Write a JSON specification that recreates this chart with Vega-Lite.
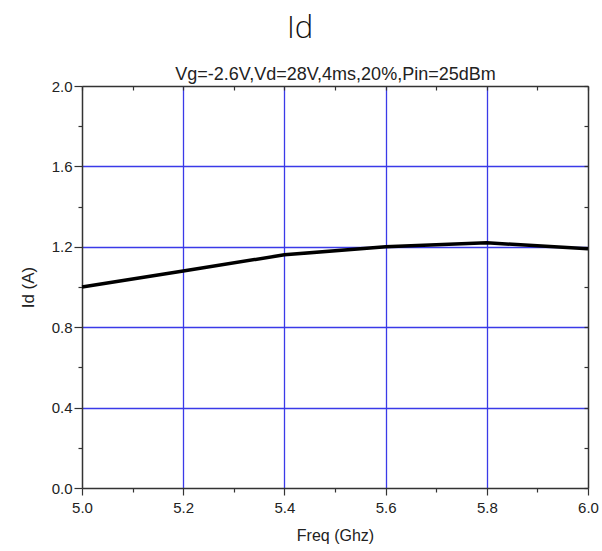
{
  "$schema": "https://vega.github.io/schema/vega-lite/v6.json",
  "width": 506,
  "height": 402,
  "autosize": {"type": "none"},
  "padding": {"left": 82, "top": 86, "right": 14, "bottom": 63},
  "background": "white",
  "config": {
    "view": {"stroke": null},
    "font": "Liberation Sans",
    "axis": {"domainColor": "#333333", "domainWidth": 1.5, "tickColor": "#333333", "tickWidth": 1.2, "labelColor": "#222222", "titleColor": "#222222", "labelFont": "Liberation Sans", "titleFont": "Liberation Sans", "labelFontSize": 15, "titleFontSize": 16, "titleFontWeight": "normal", "gridColor": "#3a3ae8", "gridWidth": 1.3}
  },
  "title": {"text": "Id", "fontSize": 31, "font": "Open Sans", "fontWeight": 300, "color": "#111111", "anchor": "middle", "dx": -35, "offset": 20},
  "data": {"values": [
    {"freq": 5.0, "id": 1.0},
    {"freq": 5.2, "id": 1.08},
    {"freq": 5.4, "id": 1.16},
    {"freq": 5.6, "id": 1.2},
    {"freq": 5.8, "id": 1.22},
    {"freq": 6.0, "id": 1.19}
  ]},
  "layer": [
    {
      "mark": {"type": "line", "color": "#000000", "strokeWidth": 3.5},
      "encoding": {
        "x": {"field": "freq", "type": "quantitative", "scale": {"domain": [5.0, 6.0], "nice": false, "zero": false},
          "axis": {"orient": "bottom", "title": "Freq (Ghz)", "values": [5.0, 5.1, 5.2, 5.3, 5.4, 5.5, 5.6, 5.7, 5.8, 5.9, 6.0],
            "labelExpr": "abs(datum.value*5 - round(datum.value*5)) < 0.01 ? format(datum.value, '.1f') : ''",
            "tickSize": {"condition": {"test": "abs(datum.value*5 - round(datum.value*5)) < 0.01", "value": 7}, "value": 4},
            "grid": true,
            "gridOpacity": {"condition": {"test": "abs(datum.value*5 - round(datum.value*5)) < 0.01 && datum.value > 5.05 && datum.value < 5.95", "value": 1}, "value": 0},
            "labelPadding": 5, "titlePadding": 12, "labelFlush": false}},
        "y": {"field": "id", "type": "quantitative", "scale": {"domain": [0, 2.0], "nice": false},
          "axis": {"orient": "left", "title": "Id (A)", "titleFontSize": 17, "values": [0, 0.2, 0.4, 0.6, 0.8, 1.0, 1.2, 1.4, 1.6, 1.8, 2.0],
            "labelExpr": "abs(datum.value*2.5 - round(datum.value*2.5)) < 0.01 ? format(datum.value, '.1f') : ''",
            "tickSize": {"condition": {"test": "abs(datum.value*2.5 - round(datum.value*2.5)) < 0.01", "value": 8}, "value": 4},
            "grid": true,
            "gridOpacity": {"condition": {"test": "abs(datum.value*2.5 - round(datum.value*2.5)) < 0.01 && datum.value > 0.05 && datum.value < 1.95", "value": 1}, "value": 0},
            "labelPadding": 2, "titlePadding": 14, "labelFlush": false}}
      }
    },
    {
      "mark": {"type": "line", "opacity": 0},
      "encoding": {
        "x": {"field": "freq", "type": "quantitative", "scale": {"domain": [5.0, 6.0], "nice": false, "zero": false},
          "axis": {"orient": "top", "title": "Vg=-2.6V,Vd=28V,4ms,20%,Pin=25dBm", "titleFontSize": 18, "titlePadding": 2, "values": [5.0, 5.1, 5.2, 5.3, 5.4, 5.5, 5.6, 5.7, 5.8, 5.9, 6.0], "labels": false, "tickSize": -4, "grid": false}},
        "y": {"field": "id", "type": "quantitative", "scale": {"domain": [0, 2.0], "nice": false},
          "axis": {"orient": "right", "title": null, "values": [0, 0.2, 0.4, 0.6, 0.8, 1.0, 1.2, 1.4, 1.6, 1.8, 2.0], "labels": false, "tickSize": -4, "grid": false}}
      }
    }
  ],
  "resolve": {"axis": {"x": "independent", "y": "independent"}}
}
